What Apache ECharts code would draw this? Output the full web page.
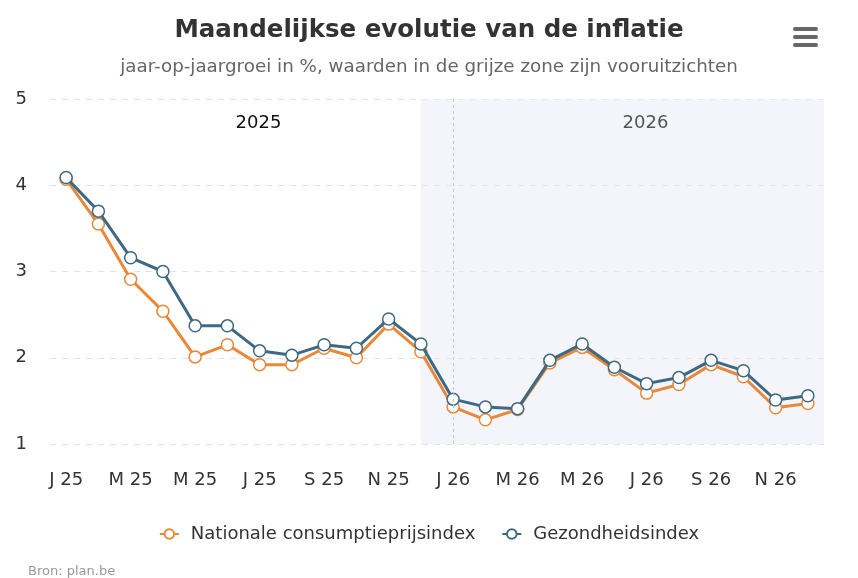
<!DOCTYPE html>
<html><head><meta charset="utf-8">
<script src="https://cdn.jsdelivr.net/npm/echarts@6/dist/echarts.min.js"></script>
<style>html,body{margin:0;padding:0;background:#fff}#c{width:858px;height:578px}</style>
</head><body><div id="c"></div>
<script>
const months = ['2025-01','2025-02','2025-03','2025-04','2025-05','2025-06','2025-07','2025-08','2025-09','2025-10','2025-11','2025-12',
  '2026-01','2026-02','2026-03','2026-04','2026-05','2026-06','2026-07','2026-08','2026-09','2026-10','2026-11','2026-12'];
const tickLabels = ['J 25','F 25','M 25','A 25','M 25','J 25','J 25','A 25','S 25','O 25','N 25','D 25',
  'J 26','F 26','M 26','A 26','M 26','J 26','J 26','A 26','S 26','O 26','N 26','D 26'];
const nationaleCPI = [4.07,3.55,2.91,2.54,2.01,2.15,1.92,1.92,2.11,2.00,2.39,2.07,
  1.43,1.28,1.40,1.94,2.12,1.86,1.59,1.69,1.92,1.78,1.42,1.47];
const gezondheidsindex = [4.09,3.70,3.16,3.00,2.37,2.37,2.08,2.03,2.15,2.11,2.45,2.16,
  1.52,1.43,1.41,1.97,2.16,1.89,1.70,1.77,1.97,1.85,1.51,1.56];
const yearLabels = ['2025','2026'];
const forecastStart = 11; // index of first forecast-zone month (Dec 2025)
const dividerIndex = 12;  // Jan 2026

const FONT = 'DejaVu Sans, Verdana, sans-serif';
const chart = echarts.init(document.getElementById('c'), null, {renderer:'canvas'});
chart.setOption({
  backgroundColor:'#fff',
  animation:false,
  title:{
    text:'Maandelijkse evolutie van de inflatie',
    subtext:'jaar-op-jaargroei in %, waarden in de grijze zone zijn vooruitzichten',
    left:'center', top:13, itemGap:15,
    textStyle:{fontFamily:FONT,fontSize:24.5,fontWeight:'bold',color:'#333'},
    subtextStyle:{fontFamily:FONT,fontSize:18.3,color:'#666'}
  },
  legend:{
    bottom:30, left:'center', itemGap:26, itemWidth:19, itemHeight:12,
    textStyle:{fontFamily:FONT,fontSize:18,color:'#333',padding:[0,0,0,7]},
    data:['Nationale consumptieprijsindex','Gezondheidsindex']
  },
  grid:{left:50,right:34,top:99,bottom:134,containLabel:false},
  xAxis:[{
    type:'category', data:months, boundaryGap:true,
    axisLine:{show:false}, axisTick:{show:false},
    axisLabel:{interval:1, margin:27, fontFamily:FONT, fontSize:18, color:'#333',
      formatter:(v,i)=>tickLabels[i]},
    splitLine:{show:false}
  },{
    type:'value', min:0, max:months.length, show:false
  }],
  yAxis:{
    type:'value', min:1, max:5, interval:1,
    axisLine:{show:false}, axisTick:{show:false},
    axisLabel:{margin:23, fontFamily:FONT, fontSize:18, color:'#333'},
    splitLine:{lineStyle:{type:[6,6],color:'#e3e3e3',width:1}}
  },
  graphic:[
    {type:'group', right:40, top:27, children:[
      {type:'rect', shape:{x:0,y:0,width:25,height:4,r:2}, style:{fill:'#666'}},
      {type:'rect', shape:{x:0,y:8,width:25,height:4,r:2}, style:{fill:'#666'}},
      {type:'rect', shape:{x:0,y:16,width:25,height:4,r:2}, style:{fill:'#666'}}
    ]},
    {type:'text', left:28, top:565, style:{text:'Bron: plan.be', fontFamily:FONT, fontSize:13, fill:'#999'}}
  ],
  series:[
    {
      name:'zones', type:'line', xAxisIndex:1, data:[], silent:true,
      markArea:{silent:true, data:[
        [{xAxis:forecastStart+0.5, itemStyle:{color:'rgba(233,237,246,0.55)'}},{xAxis:months.length}],
        [{xAxis:0, name:yearLabels[0], itemStyle:{color:'rgba(0,0,0,0)'},
          label:{show:true, position:'insideTop', distance:0, offset:[15,15], fontFamily:FONT, fontSize:18, color:'#111'}},{xAxis:12}],
        [{xAxis:12, name:yearLabels[1], itemStyle:{color:'rgba(0,0,0,0)'},
          label:{show:true, position:'insideTop', distance:0, offset:[15,15], fontFamily:FONT, fontSize:18, color:'#555'}},{xAxis:24}]
      ]},
      markLine:{silent:true, symbol:'none', label:{show:false},
        lineStyle:{type:[3,3], color:'#c8c8c8', width:1},
        data:[{xAxis:dividerIndex+0.5}]}
    },
    {
      name:'Nationale consumptieprijsindex', type:'line', data:nationaleCPI,
      symbol:'circle', symbolSize:12, lineStyle:{width:3,color:'#e8883a'},
      itemStyle:{color:'#fff', borderColor:'#e8883a', borderWidth:1.5},
      z:3
    },
    {
      name:'Gezondheidsindex', type:'line', data:gezondheidsindex,
      symbol:'circle', symbolSize:12, lineStyle:{width:3,color:'#3d6a82'},
      itemStyle:{color:'#fff', borderColor:'#3d6a82', borderWidth:1.5},
      z:4
    }
  ]
});
</script></body></html>
